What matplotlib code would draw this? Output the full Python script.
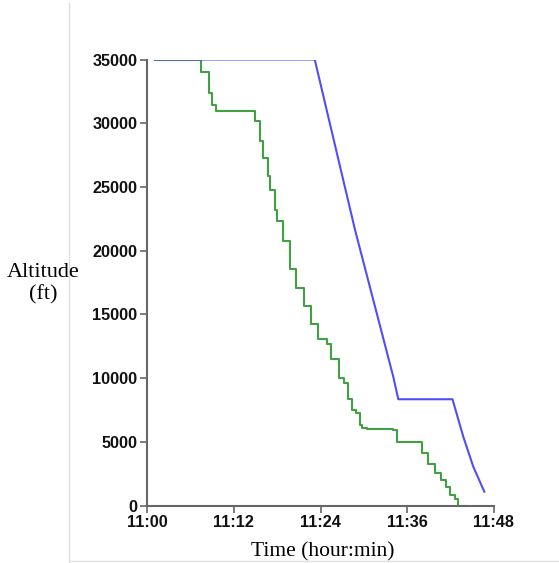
"""
Altitude profile of two descents (planned vs. flown) against clock time.
"""
import matplotlib
matplotlib.use("Agg")
import matplotlib.pyplot as plt
from matplotlib.lines import Line2D

# minutes after 11:00
blue_time = [1.07, 23.2, 28.8, 34.09, 34.78, 42.29, 43.79, 45.17, 46.70]
blue_alt = [35000, 35000, 21600, 10100, 8350, 8350, 5400, 3060, 1100]

# step series: altitude holds from each time until the next one
green_time = [1.07, 7.5, 8.6, 9.0, 9.5, 14.9, 15.6, 16.1, 16.7, 17.0,
              17.7, 18.0, 18.8, 19.8, 20.6, 21.7, 22.7, 23.7, 24.9, 25.5,
              26.6, 27.2, 27.8, 28.3, 28.9, 29.5, 29.8, 30.5, 34.0, 34.6,
              38.0, 38.9, 39.8, 40.7, 41.4, 41.9, 42.6, 43.1, 44.0]
green_alt = [35000, 34000, 32400, 31400, 31000, 30200, 28600, 27300, 25900,
             24800, 23200, 22300, 20800, 18600, 17100, 15700, 14250, 13100,
             12700, 11500, 10000, 9600, 8400, 7500, 7250, 6350, 6100, 6000,
             5900, 5000, 4100, 3300, 2600, 2000, 1500, 840, 525, 0, 0]

x_ticks = [0, 12, 24, 36, 48]
x_labels = ["11:00", "11:12", "11:24", "11:36", "11:48"]
y_ticks = [0, 5000, 10000, 15000, 20000, 25000, 30000, 35000]

fig = plt.figure(figsize=(5.59, 5.63), dpi=100)
ax = fig.add_axes([0.2635, 0.1018, 0.6197, 0.7925])

ax.plot(green_time, green_alt, drawstyle="steps-post", color="#42a042",
        lw=1.5)
ax.plot(blue_time, blue_alt, color="#4f4ff5", lw=1.5)

ax.set_xlim(0, 48)
ax.set_ylim(0, 35000)
ax.set_xticks(x_ticks)
ax.set_xticklabels(x_labels)
ax.set_yticks(y_ticks)
ax.set_yticklabels([str(v) for v in y_ticks])

for s in ["top", "right"]:
    ax.spines[s].set_visible(False)
for s in ["left", "bottom"]:
    ax.spines[s].set_color("#666666")
    ax.spines[s].set_linewidth(1.5)
ax.tick_params(length=5, width=1.2, color="#666666", pad=2,
               labelcolor="#111111")
for lab in ax.get_xticklabels() + ax.get_yticklabels():
    lab.set_fontfamily("Liberation Sans")
    lab.set_fontweight("bold")
    lab.set_fontsize(11.7)

fig.text(0.078, 0.4956, "Altitude\n(ft)", ha="center", va="center",
         family="Liberation Serif", fontsize=16, linespacing=1.2)
fig.text(0.578, 0.019, "Time (hour:min)", ha="center", va="center",
         family="Liberation Serif", fontsize=15.5)

# light frame edges of the cropped figure
fig.add_artist(Line2D([0.1234, 0.1234], [0.0, 0.995], color="#e0e0e0",
                      lw=1, transform=fig.transFigure))
fig.add_artist(Line2D([0.1234, 1.0], [0.003, 0.003], color="#e0e0e0",
                      lw=1, transform=fig.transFigure))

plt.savefig("out.png", dpi=100)
